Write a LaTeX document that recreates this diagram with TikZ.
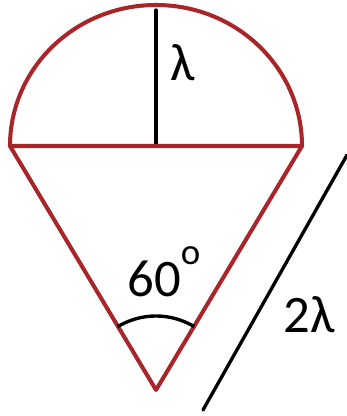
\documentclass[tikz,border=0pt]{standalone}
\usepackage{fontspec}
\setmainfont{Carlito}
\definecolor{doread}{RGB}{168,38,42}
\begin{document}
\begin{tikzpicture}[
	% kiểu dáng cho các nét
	vien/.style={draw=doread, line width=2.3pt}, % nét đỏ của hình
	net/.style={draw=black, line width=1.9pt}, % nét đen
	nhan/.style={font=\fontsize{30}{34}\selectfont, inner sep=0pt}, % chữ
	line join=round,line cap=round,x=0.02cm,y=0.02cm]
	\useasboundingbox (0,0) rectangle (347,416);
	% tọa độ các điểm
	\coordinate (L) at (10,270);   % mép trái
	\coordinate (R) at (302,270);  % mép phải
	\coordinate (O) at (156,270);  % tâm
	\coordinate (T) at (156,406);  % đỉnh bán kính
	\coordinate (V) at (156,26);   % đỉnh nón
	\coordinate (A) at (203,6);
	\coordinate (B) at (347,261);

	% bán kính và nón
	\draw[net] (O) -- (T);
	\draw[vien] (L) arc[start angle=180, end angle=0, x radius=146, y radius=141];
	\draw[vien] (L) -- (R) -- (V) -- cycle;

	% góc ở đỉnh
	\draw[net, line cap=butt] ([shift={(59:74)}]V) arc[start angle=59, end angle=121, radius=74];

	% đoạn chiều dài
	\draw[net] (A) -- (B);

	% các nhãn
	\node[nhan] (lam) at (183,353) {λ};
	\node[nhan, anchor=base west] (goc) at (127,119) {60\raisebox{0.62em}{\fontsize{21}{21}\selectfont o}};
	\node[nhan] (dai) at (309,101) {2λ};
\end{tikzpicture}
\end{document}
